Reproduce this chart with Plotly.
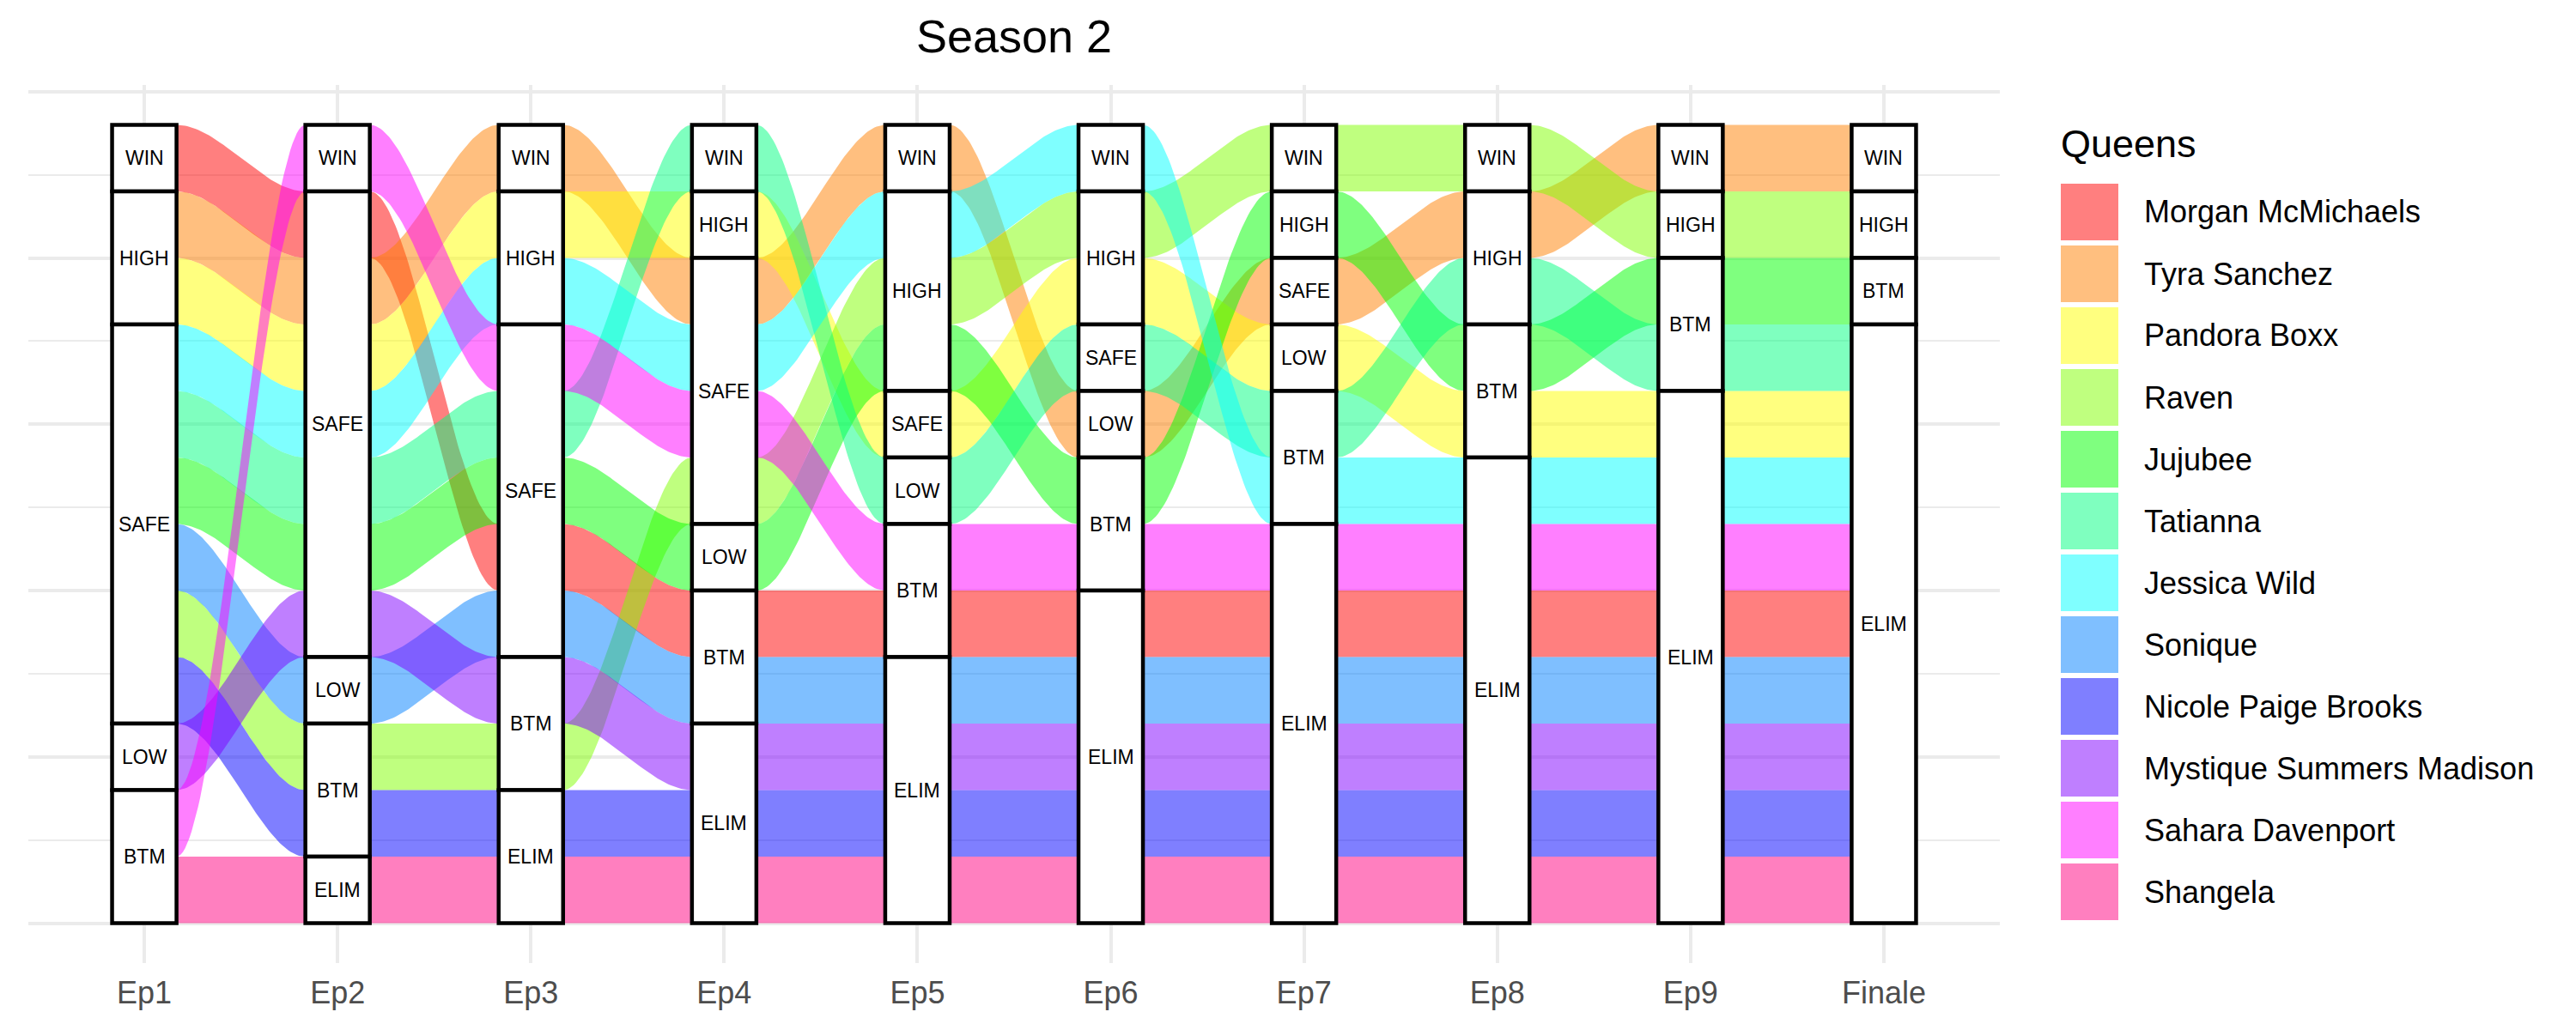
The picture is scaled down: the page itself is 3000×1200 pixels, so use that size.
import numpy as np
import plotly.graph_objects as go

# ---------------- data ----------------
episodes = ["Ep1", "Ep2", "Ep3", "Ep4", "Ep5", "Ep6", "Ep7", "Ep8", "Ep9", "Finale"]
strata = ["WIN", "HIGH", "SAFE", "LOW", "BTM", "ELIM"]
queens = ["Morgan McMichaels", "Tyra Sanchez", "Pandora Boxx", "Raven", "Jujubee",
          "Tatianna", "Jessica Wild", "Sonique", "Nicole Paige Brooks",
          "Mystique Summers Madison", "Sahara Davenport", "Shangela"]
queen_colors = ["#FF0000", "#FF8000", "#FFFF00", "#80FF00", "#00FF00", "#00FF80",
                "#00FFFF", "#0080FF", "#0000FF", "#8000FF", "#FF00FF", "#FF0080"]

# results per episode, listed in stacking order (top to bottom)
ep1 = [("Morgan McMichaels", "WIN"), ("Tyra Sanchez", "HIGH"), ("Pandora Boxx", "HIGH"),
       ("Jessica Wild", "SAFE"), ("Tatianna", "SAFE"), ("Jujubee", "SAFE"), ("Sonique", "SAFE"),
       ("Raven", "SAFE"), ("Nicole Paige Brooks", "SAFE"), ("Mystique Summers Madison", "LOW"),
       ("Sahara Davenport", "BTM"), ("Shangela", "BTM")]
ep2 = [("Sahara Davenport", "WIN"), ("Morgan McMichaels", "SAFE"), ("Tyra Sanchez", "SAFE"),
       ("Pandora Boxx", "SAFE"), ("Jessica Wild", "SAFE"), ("Tatianna", "SAFE"), ("Jujubee", "SAFE"),
       ("Mystique Summers Madison", "SAFE"), ("Sonique", "LOW"), ("Raven", "BTM"),
       ("Nicole Paige Brooks", "BTM"), ("Shangela", "ELIM")]
ep3 = [("Tyra Sanchez", "WIN"), ("Pandora Boxx", "HIGH"), ("Jessica Wild", "HIGH"),
       ("Sahara Davenport", "SAFE"), ("Tatianna", "SAFE"), ("Jujubee", "SAFE"),
       ("Morgan McMichaels", "SAFE"), ("Sonique", "SAFE"), ("Mystique Summers Madison", "BTM"),
       ("Raven", "BTM"), ("Nicole Paige Brooks", "ELIM"), ("Shangela", "ELIM")]
ep4 = [("Tatianna", "WIN"), ("Pandora Boxx", "HIGH"), ("Tyra Sanchez", "SAFE"),
       ("Jessica Wild", "SAFE"), ("Sahara Davenport", "SAFE"), ("Raven", "SAFE"), ("Jujubee", "LOW"),
       ("Morgan McMichaels", "BTM"), ("Sonique", "BTM"), ("Mystique Summers Madison", "ELIM"),
       ("Nicole Paige Brooks", "ELIM"), ("Shangela", "ELIM")]
ep5 = [("Tyra Sanchez", "WIN"), ("Jessica Wild", "HIGH"), ("Raven", "HIGH"), ("Jujubee", "HIGH"),
       ("Pandora Boxx", "SAFE"), ("Tatianna", "LOW"), ("Sahara Davenport", "BTM"),
       ("Morgan McMichaels", "BTM"), ("Sonique", "ELIM"), ("Mystique Summers Madison", "ELIM"),
       ("Nicole Paige Brooks", "ELIM"), ("Shangela", "ELIM")]
ep6 = [("Jessica Wild", "WIN"), ("Raven", "HIGH"), ("Pandora Boxx", "HIGH"), ("Tatianna", "SAFE"),
       ("Tyra Sanchez", "LOW"), ("Jujubee", "BTM"), ("Sahara Davenport", "BTM"),
       ("Morgan McMichaels", "ELIM"), ("Sonique", "ELIM"), ("Mystique Summers Madison", "ELIM"),
       ("Nicole Paige Brooks", "ELIM"), ("Shangela", "ELIM")]
ep7 = [("Raven", "WIN"), ("Jujubee", "HIGH"), ("Tyra Sanchez", "SAFE"), ("Pandora Boxx", "LOW"),
       ("Tatianna", "BTM"), ("Jessica Wild", "BTM"), ("Sahara Davenport", "ELIM"),
       ("Morgan McMichaels", "ELIM"), ("Sonique", "ELIM"), ("Mystique Summers Madison", "ELIM"),
       ("Nicole Paige Brooks", "ELIM"), ("Shangela", "ELIM")]
ep8 = [("Raven", "WIN"), ("Tyra Sanchez", "HIGH"), ("Tatianna", "HIGH"), ("Jujubee", "BTM"),
       ("Pandora Boxx", "BTM"), ("Jessica Wild", "ELIM"), ("Sahara Davenport", "ELIM"),
       ("Morgan McMichaels", "ELIM"), ("Sonique", "ELIM"), ("Mystique Summers Madison", "ELIM"),
       ("Nicole Paige Brooks", "ELIM"), ("Shangela", "ELIM")]
ep9 = [("Tyra Sanchez", "WIN"), ("Raven", "HIGH"), ("Jujubee", "BTM"), ("Tatianna", "BTM"),
       ("Pandora Boxx", "ELIM"), ("Jessica Wild", "ELIM"), ("Sahara Davenport", "ELIM"),
       ("Morgan McMichaels", "ELIM"), ("Sonique", "ELIM"), ("Mystique Summers Madison", "ELIM"),
       ("Nicole Paige Brooks", "ELIM"), ("Shangela", "ELIM")]
finale = [("Tyra Sanchez", "WIN"), ("Raven", "HIGH"), ("Jujubee", "BTM"), ("Tatianna", "ELIM"),
          ("Pandora Boxx", "ELIM"), ("Jessica Wild", "ELIM"), ("Sahara Davenport", "ELIM"),
          ("Morgan McMichaels", "ELIM"), ("Sonique", "ELIM"), ("Mystique Summers Madison", "ELIM"),
          ("Nicole Paige Brooks", "ELIM"), ("Shangela", "ELIM")]
results = [ep1, ep2, ep3, ep4, ep5, ep6, ep7, ep8, ep9, finale]

# ---------------- layout constants ----------------
W, H = 3000, 1200
OFF = 8  # page body margin offset compensation
ML, MT = 33 - OFF, 99 - OFF
PW, PH = 2296, 1023
MR, MB = W - ML - PW, H - MT - PH
FONT = "Liberation Sans, Arial, Helvetica, sans-serif"
BOX_W = 1 / 3
ALPHA = 0.5


def rgba(hexc, a):
    h = hexc.lstrip("#")
    return f"rgba({int(h[0:2], 16)},{int(h[2:4], 16)},{int(h[4:6], 16)},{a})"


n = len(queens)
pos = {}
boxes = []
for e, res in enumerate(results):
    for k, (q, s) in enumerate(res):
        pos[(e, q)] = (n - k - 1, n - k)
    for s in strata:
        ks = [k for k, (q, ss) in enumerate(res) if ss == s]
        if ks:
            boxes.append((e, s, n - max(ks) - 1, n - min(ks)))

fig = go.Figure()

t = np.linspace(0, 1, 61)
sm = 3 * t ** 2 - 2 * t ** 3
for qi, q in enumerate(queens):
    col = rgba(queen_colors[qi], ALPHA)
    for e in range(len(episodes) - 1):
        x0 = e + 1 + BOX_W / 2
        x1 = e + 2 - BOX_W / 2
        lo0, hi0 = pos[(e, q)]
        lo1, hi1 = pos[(e + 1, q)]
        xs = x0 + (x1 - x0) * t
        top = hi0 + (hi1 - hi0) * sm
        bot = lo0 + (lo1 - lo0) * sm
        fig.add_trace(go.Scatter(
            x=np.concatenate([xs, xs[::-1]]),
            y=np.concatenate([top, bot[::-1]]),
            mode="lines", fill="toself", fillcolor=col,
            line=dict(width=0, color=col), hoverinfo="skip", showlegend=False))

shapes = []
annotations = []
for e, s, lo, hi in boxes:
    shapes.append(dict(type="rect", xref="x", yref="y",
                       x0=e + 1 - BOX_W / 2, x1=e + 1 + BOX_W / 2, y0=lo, y1=hi,
                       line=dict(color="black", width=4.5), fillcolor="white", layer="above"))
    annotations.append(dict(x=e + 1, y=(lo + hi) / 2, xref="x", yref="y", text=s,
                            showarrow=False, font=dict(size=23, color="black", family=FONT)))


# manual legend (target pixel positions converted to paper coordinates)
def px_x(p):
    return (p - OFF - ML) / PW


def px_y(p):
    return 1 - (p - OFF - MT) / PH


annotations.append(dict(x=px_x(2398), y=px_y(168), xref="paper", yref="paper", text="Queens",
                        xanchor="left", yanchor="middle", showarrow=False,
                        font=dict(size=45, color="black", family=FONT)))
for i, q in enumerate(queens):
    cy = 247 + 72.0 * i
    shapes.append(dict(type="rect", xref="paper", yref="paper",
                       x0=px_x(2400), x1=px_x(2467), y0=px_y(cy - 33), y1=px_y(cy + 33),
                       line=dict(width=0), fillcolor=rgba(queen_colors[i], ALPHA)))
    annotations.append(dict(x=px_x(2495), y=px_y(cy), xref="paper", yref="paper", text=q,
                            xanchor="left", yanchor="middle", showarrow=False,
                            font=dict(size=36, color="black", family=FONT)))

fig.update_layout(
    width=W, height=H,
    margin=dict(l=ML, r=MR, t=MT, b=MB, pad=0),
    paper_bgcolor="white", plot_bgcolor="white",
    showlegend=False,
    title=dict(text="Season 2", x=0.5, xref="paper", xanchor="center",
               y=1 - (42 - OFF) / H, yref="container", yanchor="middle",
               font=dict(size=54, color="black", family=FONT)),
    xaxis=dict(range=[0.4, len(episodes) + 0.6], tickvals=list(range(1, len(episodes) + 1)),
               ticktext=episodes, showgrid=True, gridcolor="#EBEBEB", gridwidth=4,
               zeroline=False, showline=False, ticks="outside", ticklen=3,
               tickcolor="rgba(0,0,0,0)", automargin=False,
               tickfont=dict(size=36, color="#4D4D4D", family=FONT)),
    yaxis=dict(range=[-0.6, n + 0.6], tick0=0, dtick=2.5, showticklabels=False,
               showgrid=True, gridcolor="#EBEBEB", gridwidth=4, zeroline=False,
               showline=False, automargin=False,
               minor=dict(tick0=0, dtick=1.25, showgrid=True, gridcolor="#EBEBEB", gridwidth=2)),
    shapes=shapes, annotations=annotations,
)

fig.write_html("out.html")
